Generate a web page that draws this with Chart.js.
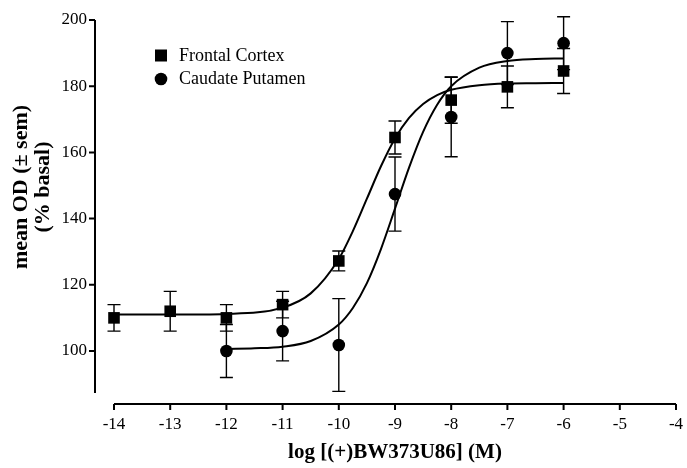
<!DOCTYPE html>
<html>
<head>
<meta charset="utf-8">
<script src="https://cdn.jsdelivr.net/npm/chart.js@4.4.1/dist/chart.umd.min.js"></script>
<style>
  html, body { margin: 0; padding: 0; background: #ffffff; }
  #wrap { width: 687px; height: 468px; }
</style>
</head>
<body>
<div id="wrap"><canvas id="c" width="687" height="468"></canvas></div>
<script>
// ---- data ----
const xTickValues = [-14, -13, -12, -11, -10, -9, -8, -7, -6, -5, -4];
const yTickValues = [100, 120, 140, 160, 180, 200];

const frontalX    = [-14, -13, -12, -11, -10, -9, -8, -7, -6];
const frontalMean = [110, 112, 110, 114, 127.2, 164.5, 175.8, 179.8, 184.6];
const frontalSem  = [4, 6, 4, 4, 3, 5, 7, 6.3, 6.8];

const caudateX    = [-12, -11, -10, -9, -8, -7, -6];
const caudateMean = [100, 106, 101.8, 147.4, 170.7, 190, 193];
const caudateSem  = [8, 9, 14, 11.2, 12, 9.5, 8];

// fitted curves
const frontalCurveX = [-14, -13, -12, -11, -10.5, -10, -9.75, -9.5, -9.25, -9, -8.75, -8.5, -8.25, -8, -7.5, -7, -6.5, -6];
const frontalCurveY = [111.0, 111.0, 111.2, 113.1, 117.4, 127.8, 136.2, 146.0, 155.8, 164.2, 170.4, 174.6, 177.3, 178.9, 180.3, 180.8, 180.9, 181.0];
const caudateCurveX = [-12, -11.5, -11, -10.5, -10, -9.75, -9.5, -9.25, -9, -8.75, -8.5, -8.25, -8, -7.5, -7, -6.5, -6];
const caudateCurveY = [100.6, 100.8, 101.3, 103.0, 108.0, 113.0, 120.5, 130.8, 143.0, 155.4, 166.2, 174.4, 180.0, 185.6, 187.6, 188.2, 188.4];

const seriesNames = ['Frontal Cortex', 'Caudate Putamen'];
const xTitle = 'log [(+)BW373U86] (M)';
const yTitle = ['mean OD (\u00B1 sem)', '(% basal)'];

// ---- helpers ----
const pts = (xs, ys) => xs.map((x, i) => ({ x: x, y: ys[i] }));
const SERIF = "'Liberation Serif', 'Times New Roman', serif";

Chart.defaults.font.family = SERIF;
Chart.defaults.color = '#000';

const errorBarPlugin = {
  id: 'errorBars',
  beforeDatasetsDraw(chart) {
    const { ctx, scales: { x, y } } = chart;
    const sets = [[frontalX, frontalMean, frontalSem], [caudateX, caudateMean, caudateSem]];
    ctx.save();
    ctx.strokeStyle = '#000';
    ctx.lineWidth = 1.4;
    sets.forEach(([xs, ms, ss]) => {
      xs.forEach((xv, i) => {
        const px = x.getPixelForValue(xv);
        const top = y.getPixelForValue(ms[i] + ss[i]);
        const bot = y.getPixelForValue(ms[i] - ss[i]);
        ctx.beginPath();
        ctx.moveTo(px, top); ctx.lineTo(px, bot);
        ctx.moveTo(px - 6.5, top); ctx.lineTo(px + 6.5, top);
        ctx.moveTo(px - 6.5, bot); ctx.lineTo(px + 6.5, bot);
        ctx.stroke();
      });
    });
    ctx.restore();
  }
};

const axesPlugin = {
  id: 'offsetAxes',
  afterDraw(chart) {
    const { ctx, scales: { x, y }, chartArea } = chart;
    ctx.save();
    ctx.strokeStyle = '#000';
    ctx.lineWidth = 2;
    // y axis (offset to the left of the plot)
    const ax = chartArea.left - 19;
    ctx.beginPath();
    ctx.moveTo(ax, y.getPixelForValue(200));
    ctx.lineTo(ax, chartArea.bottom);
    yTickValues.forEach(v => {
      const py = y.getPixelForValue(v);
      ctx.moveTo(ax - 6, py); ctx.lineTo(ax, py);
    });
    ctx.stroke();
    // x axis (offset below the plot)
    const ay = chartArea.bottom + 11;
    ctx.beginPath();
    ctx.moveTo(x.getPixelForValue(-14), ay);
    ctx.lineTo(x.getPixelForValue(-4), ay);
    xTickValues.forEach(v => {
      const px = x.getPixelForValue(v);
      ctx.moveTo(px, ay); ctx.lineTo(px, ay + 6);
    });
    ctx.stroke();

    // y title (two lines, rotated)
    ctx.fillStyle = '#000';
    ctx.font = 'bold 22px ' + SERIF;
    ctx.textAlign = 'center';
    ctx.textBaseline = 'middle';
    [[21, yTitle[0]], [43, yTitle[1]]].forEach(([cx, t]) => {
      ctx.save();
      ctx.translate(cx, 187);
      ctx.rotate(-Math.PI / 2);
      ctx.fillText(t, 0, 0);
      ctx.restore();
    });

    // legend
    ctx.font = '18px ' + SERIF;
    ctx.textAlign = 'left';
    ctx.fillRect(155, 49.5, 12, 12);
    ctx.beginPath();
    ctx.arc(161, 79, 6.3, 0, Math.PI * 2);
    ctx.fill();
    ctx.fillText(seriesNames[0], 179, 56);
    ctx.fillText(seriesNames[1], 179, 79);
    ctx.restore();
  }
};

new Chart(document.getElementById('c'), {
  type: 'scatter',
  data: {
    datasets: [
      {
        label: seriesNames[0] + ' fit', type: 'line',
        data: pts(frontalCurveX, frontalCurveY),
        borderColor: '#000', borderWidth: 2, pointRadius: 0,
        cubicInterpolationMode: 'monotone', fill: false, order: 2, clip: false
      },
      {
        label: seriesNames[1] + ' fit', type: 'line',
        data: pts(caudateCurveX, caudateCurveY),
        borderColor: '#000', borderWidth: 2, pointRadius: 0,
        cubicInterpolationMode: 'monotone', fill: false, order: 2, clip: false
      },
      {
        label: seriesNames[0],
        data: pts(frontalX, frontalMean),
        pointStyle: 'rect', pointRadius: 8.2,
        backgroundColor: '#000', borderColor: '#000', borderWidth: 0,
        order: 0, clip: false
      },
      {
        label: seriesNames[1],
        data: pts(caudateX, caudateMean),
        pointStyle: 'circle', pointRadius: 6.3,
        backgroundColor: '#000', borderColor: '#000', borderWidth: 0,
        order: 0, clip: false
      }
    ]
  },
  options: {
    responsive: false,
    animation: false,
    devicePixelRatio: 1,
    layout: { padding: { left: 0, right: 11, top: 20, bottom: 0 } },
    plugins: { legend: { display: false }, tooltip: { enabled: false } },
    scales: {
      x: {
        type: 'linear', min: -14, max: -4,
        grid: { display: false, drawTicks: false },
        border: { display: false },
        ticks: { stepSize: 1, padding: 21, font: { size: 17 }, color: '#000' },
        title: { display: true, text: xTitle, font: { size: 21, weight: 'bold' }, color: '#000', padding: { top: 0, bottom: 3 } },
        afterFit(s) { s.height = 75; s.paddingLeft = 0; s.paddingRight = 0; }
      },
      y: {
        type: 'linear', min: 87.3, max: 200,
        grid: { display: false, drawTicks: false },
        border: { display: false },
        ticks: { padding: 27, font: { size: 17 }, color: '#000' },
        afterBuildTicks(s) { s.ticks = yTickValues.map(v => ({ value: v })); },
        afterFit(s) { s.width = 114; s.paddingTop = 0; s.paddingBottom = 0; }
      }
    }
  },
  plugins: [errorBarPlugin, axesPlugin]
});
</script>
</body>
</html>
